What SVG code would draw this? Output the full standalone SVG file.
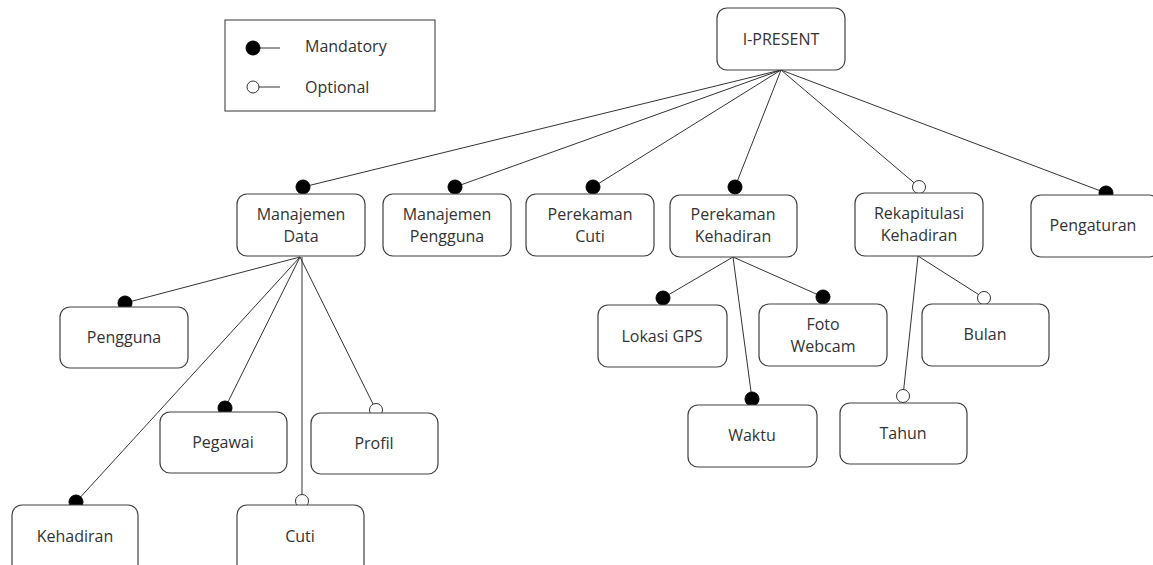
<svg xmlns="http://www.w3.org/2000/svg" width="1153" height="565" viewBox="0 0 1153 565">
<style>
.box{fill:#fff;stroke:#404040;stroke-width:1.2}
.t{font-family:"Open Sans","Noto Sans",sans-serif;font-size:16px;fill:#333;text-anchor:middle}
.lt{font-family:"Open Sans","Noto Sans",sans-serif;font-size:16px;fill:#333}
.ln{stroke:#333;stroke-width:1;fill:none}
.m{fill:#000;stroke:#000;stroke-width:1}
.o{fill:#fff;stroke:#333;stroke-width:1}
</style>
<rect width="1153" height="565" fill="#fff"/>
<g id="legend">
<rect x="225" y="20" width="210" height="91" fill="#fff" stroke="#333" stroke-width="1"/>
<line class="ln" x1="253" y1="48" x2="280" y2="48"/>
<circle class="m" cx="253" cy="48" r="7"/>
<text class="lt" x="305" y="52">Mandatory</text>
<line class="ln" x1="253" y1="87" x2="280" y2="87"/>
<circle class="o" cx="253" cy="87" r="6"/>
<text class="lt" x="305" y="93">Optional</text>
</g>
<g id="connectors">
<line class="ln" x1="781" y1="70" x2="303" y2="187"/>
<line class="ln" x1="781" y1="70" x2="455" y2="187"/>
<line class="ln" x1="781" y1="70" x2="593" y2="187"/>
<line class="ln" x1="781" y1="70" x2="735" y2="187"/>
<line class="ln" x1="781" y1="70" x2="919" y2="187"/>
<line class="ln" x1="781" y1="70" x2="1106" y2="193"/>
<line class="ln" x1="300" y1="257" x2="125" y2="303"/>
<line class="ln" x1="300" y1="257" x2="76" y2="502"/>
<line class="ln" x1="300" y1="257" x2="225" y2="408"/>
<line class="ln" x1="302" y1="257" x2="302" y2="501"/>
<line class="ln" x1="300" y1="257" x2="376" y2="410"/>
<line class="ln" x1="733" y1="257" x2="663" y2="298"/>
<line class="ln" x1="733" y1="257" x2="752" y2="399"/>
<line class="ln" x1="733" y1="257" x2="823" y2="297"/>
<line class="ln" x1="918" y1="256" x2="984" y2="298"/>
<line class="ln" x1="918" y1="256" x2="903" y2="396"/>
<circle class="m" cx="303" cy="187" r="7"/>
<circle class="m" cx="455" cy="187" r="7"/>
<circle class="m" cx="593" cy="187" r="7"/>
<circle class="m" cx="735" cy="187" r="7"/>
<circle class="o" cx="919" cy="187" r="6.5"/>
<circle class="m" cx="1106" cy="193" r="7"/>
<circle class="m" cx="125" cy="303" r="7"/>
<circle class="m" cx="76" cy="502" r="7"/>
<circle class="m" cx="225" cy="408" r="7"/>
<circle class="o" cx="302" cy="501" r="6.5"/>
<circle class="o" cx="376" cy="410" r="6.5"/>
<circle class="m" cx="663" cy="298" r="7"/>
<circle class="m" cx="752" cy="399" r="7"/>
<circle class="m" cx="823" cy="297" r="7"/>
<circle class="o" cx="984" cy="298" r="6.5"/>
<circle class="o" cx="903" cy="396" r="6.5"/>
</g>
<g id="root"><rect class="box" x="717" y="8" width="128" height="62" rx="10"/><text class="t" x="781" y="45">I-PRESENT</text></g>
<g id="manajemen-data"><rect class="box" x="237" y="194" width="128" height="62" rx="10"/><text class="t" x="301" y="220">Manajemen</text><text class="t" x="301" y="242">Data</text></g>
<g id="manajemen-pengguna"><rect class="box" x="383" y="194" width="128" height="62" rx="10"/><text class="t" x="447" y="220">Manajemen</text><text class="t" x="447" y="242">Pengguna</text></g>
<g id="perekaman-cuti"><rect class="box" x="526" y="194" width="128" height="62" rx="10"/><text class="t" x="590" y="220">Perekaman</text><text class="t" x="590" y="242">Cuti</text></g>
<g id="perekaman-kehadiran"><rect class="box" x="670" y="195" width="127" height="62" rx="10"/><text class="t" x="733" y="220">Perekaman</text><text class="t" x="733" y="242">Kehadiran</text></g>
<g id="rekapitulasi-kehadiran"><rect class="box" x="855" y="193" width="128" height="63" rx="10"/><text class="t" x="919" y="219">Rekapitulasi</text><text class="t" x="919" y="241">Kehadiran</text></g>
<g id="pengaturan"><rect class="box" x="1031" y="195" width="128" height="62" rx="10"/><text class="t" x="1093" y="231">Pengaturan</text></g>
<g id="pengguna"><rect class="box" x="60" y="307" width="128" height="61" rx="10"/><text class="t" x="124" y="343">Pengguna</text></g>
<g id="pegawai"><rect class="box" x="160" y="412" width="127" height="61" rx="10"/><text class="t" x="223" y="448">Pegawai</text></g>
<g id="profil"><rect class="box" x="311" y="413" width="127" height="61" rx="10"/><text class="t" x="374" y="449">Profil</text></g>
<g id="kehadiran"><rect class="box" x="12" y="505" width="126" height="70" rx="10"/><text class="t" x="75" y="542">Kehadiran</text></g>
<g id="cuti"><rect class="box" x="237" y="505" width="127" height="70" rx="10"/><text class="t" x="300" y="542">Cuti</text></g>
<g id="lokasi-gps"><rect class="box" x="598" y="305" width="129" height="62" rx="10"/><text class="t" x="662" y="342">Lokasi GPS</text></g>
<g id="foto-webcam"><rect class="box" x="759" y="304" width="128" height="62" rx="10"/><text class="t" x="823" y="330">Foto</text><text class="t" x="823" y="352">Webcam</text></g>
<g id="waktu"><rect class="box" x="688" y="405" width="129" height="62" rx="10"/><text class="t" x="752" y="441">Waktu</text></g>
<g id="bulan"><rect class="box" x="922" y="304" width="127" height="62" rx="10"/><text class="t" x="985" y="340">Bulan</text></g>
<g id="tahun"><rect class="box" x="840" y="403" width="127" height="61" rx="10"/><text class="t" x="903" y="439">Tahun</text></g>
</svg>
